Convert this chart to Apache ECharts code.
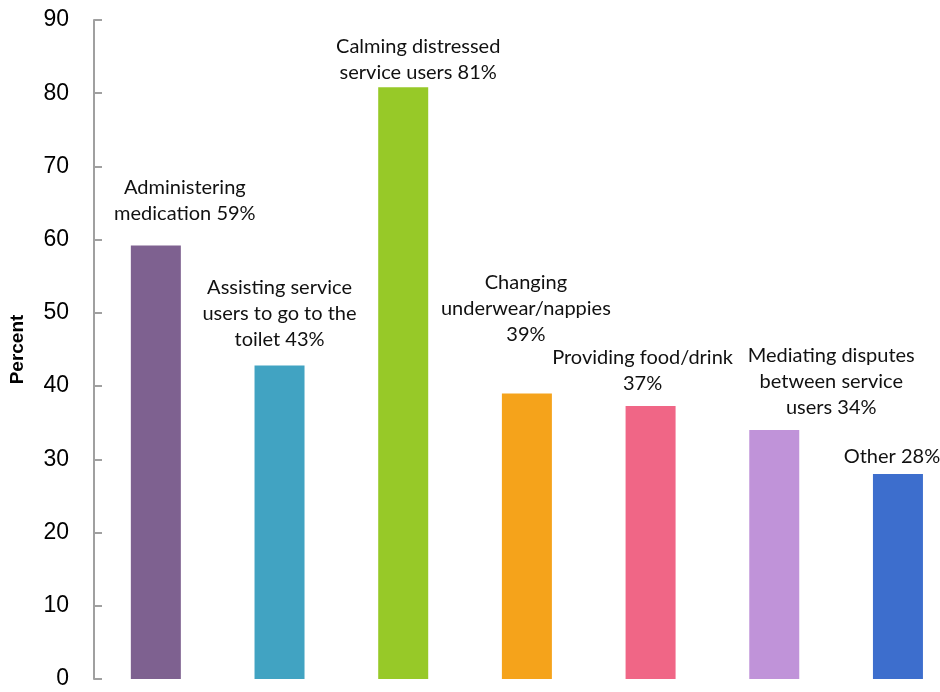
<!DOCTYPE html>
<html>
<head>
<meta charset="utf-8">
<script src="https://cdn.jsdelivr.net/npm/echarts@6/dist/echarts.min.js"></script>
<style>
  html, body { margin: 0; padding: 0; background: #fff; }
  #chart { width: 940px; height: 692px; }
</style>
</head>
<body>
<div id="chart"></div>
<script>
var categories = [
    'Administering\nmedication',
    'Assisting service\nusers to go to the\ntoilet',
    'Calming distressed\nservice users',
    'Changing\nunderwear/nappies\n',
    'Providing food/drink\n',
    'Mediating disputes\nbetween service\nusers',
    'Other'
];
var values = [59.2, 42.8, 80.8, 39.0, 37.3, 34.0, 28.0];
var percentLabels = ['59%', '43%', '81%', '39%', '37%', '34%', '28%'];
var colors = ['#7E6190', '#41A3C2', '#97C928', '#F5A31B', '#F06686', '#C093D9', '#3D6ECD'];
var yTicks = [0, 10, 20, 30, 40, 50, 60, 70, 80, 90];

// hand-placed labels, nudged like in the original
var labelOffsets = [[29, -19], [0, -13], [15, -2], [-1, -46], [-8, -9], [57, -9], [-6, -4]];

var myChart = echarts.init(document.getElementById('chart'));
myChart.setOption({
    animation: false,
    textStyle: { fontFamily: 'Lato, "Liberation Sans", sans-serif' },
    grid: { left: 94, right: 0, top: 20, bottom: 13, containLabel: false },
    // the original plot runs past the right edge, so slots are spaced on a value axis
    xAxis: {
        type: 'value',
        min: -0.5,
        max: 6.34,
        axisLine: { show: false },
        axisTick: { show: false },
        axisLabel: { show: false },
        splitLine: { show: false }
    },
    yAxis: {
        type: 'value',
        min: yTicks[0],
        max: yTicks[yTicks.length - 1],
        interval: 10,
        name: 'Percent',
        nameLocation: 'middle',
        nameGap: 67,
        nameTextStyle: {
            fontFamily: '"Liberation Sans", sans-serif',
            fontWeight: 'bold',
            fontSize: 19,
            color: '#000'
        },
        axisLine: { show: true, onZero: false, lineStyle: { color: '#a0a0a0', width: 2 } },
        axisTick: { show: true, inside: true, length: 8, lineStyle: { color: '#a0a0a0', width: 2 } },
        axisLabel: {
            margin: 25,
            fontFamily: '"Liberation Sans", sans-serif',
            fontSize: 23,
            color: '#000'
        },
        splitLine: { show: false }
    },
    series: [{
        type: 'bar',
        barWidth: 50,
        data: values.map(function (v, i) {
            var name = categories[i];
            var text = name.endsWith('\n') ? name + percentLabels[i] : name + ' ' + percentLabels[i];
            return {
                value: [i, v],
                itemStyle: { color: colors[i] },
                label: {
                    show: true,
                    position: 'top',
                    distance: 0,
                    offset: labelOffsets[i],
                    formatter: text,
                    fontSize: 20,
                    lineHeight: 26,
                    color: '#111',
                    align: 'center'
                }
            };
        })
    }]
});
</script>
</body>
</html>
